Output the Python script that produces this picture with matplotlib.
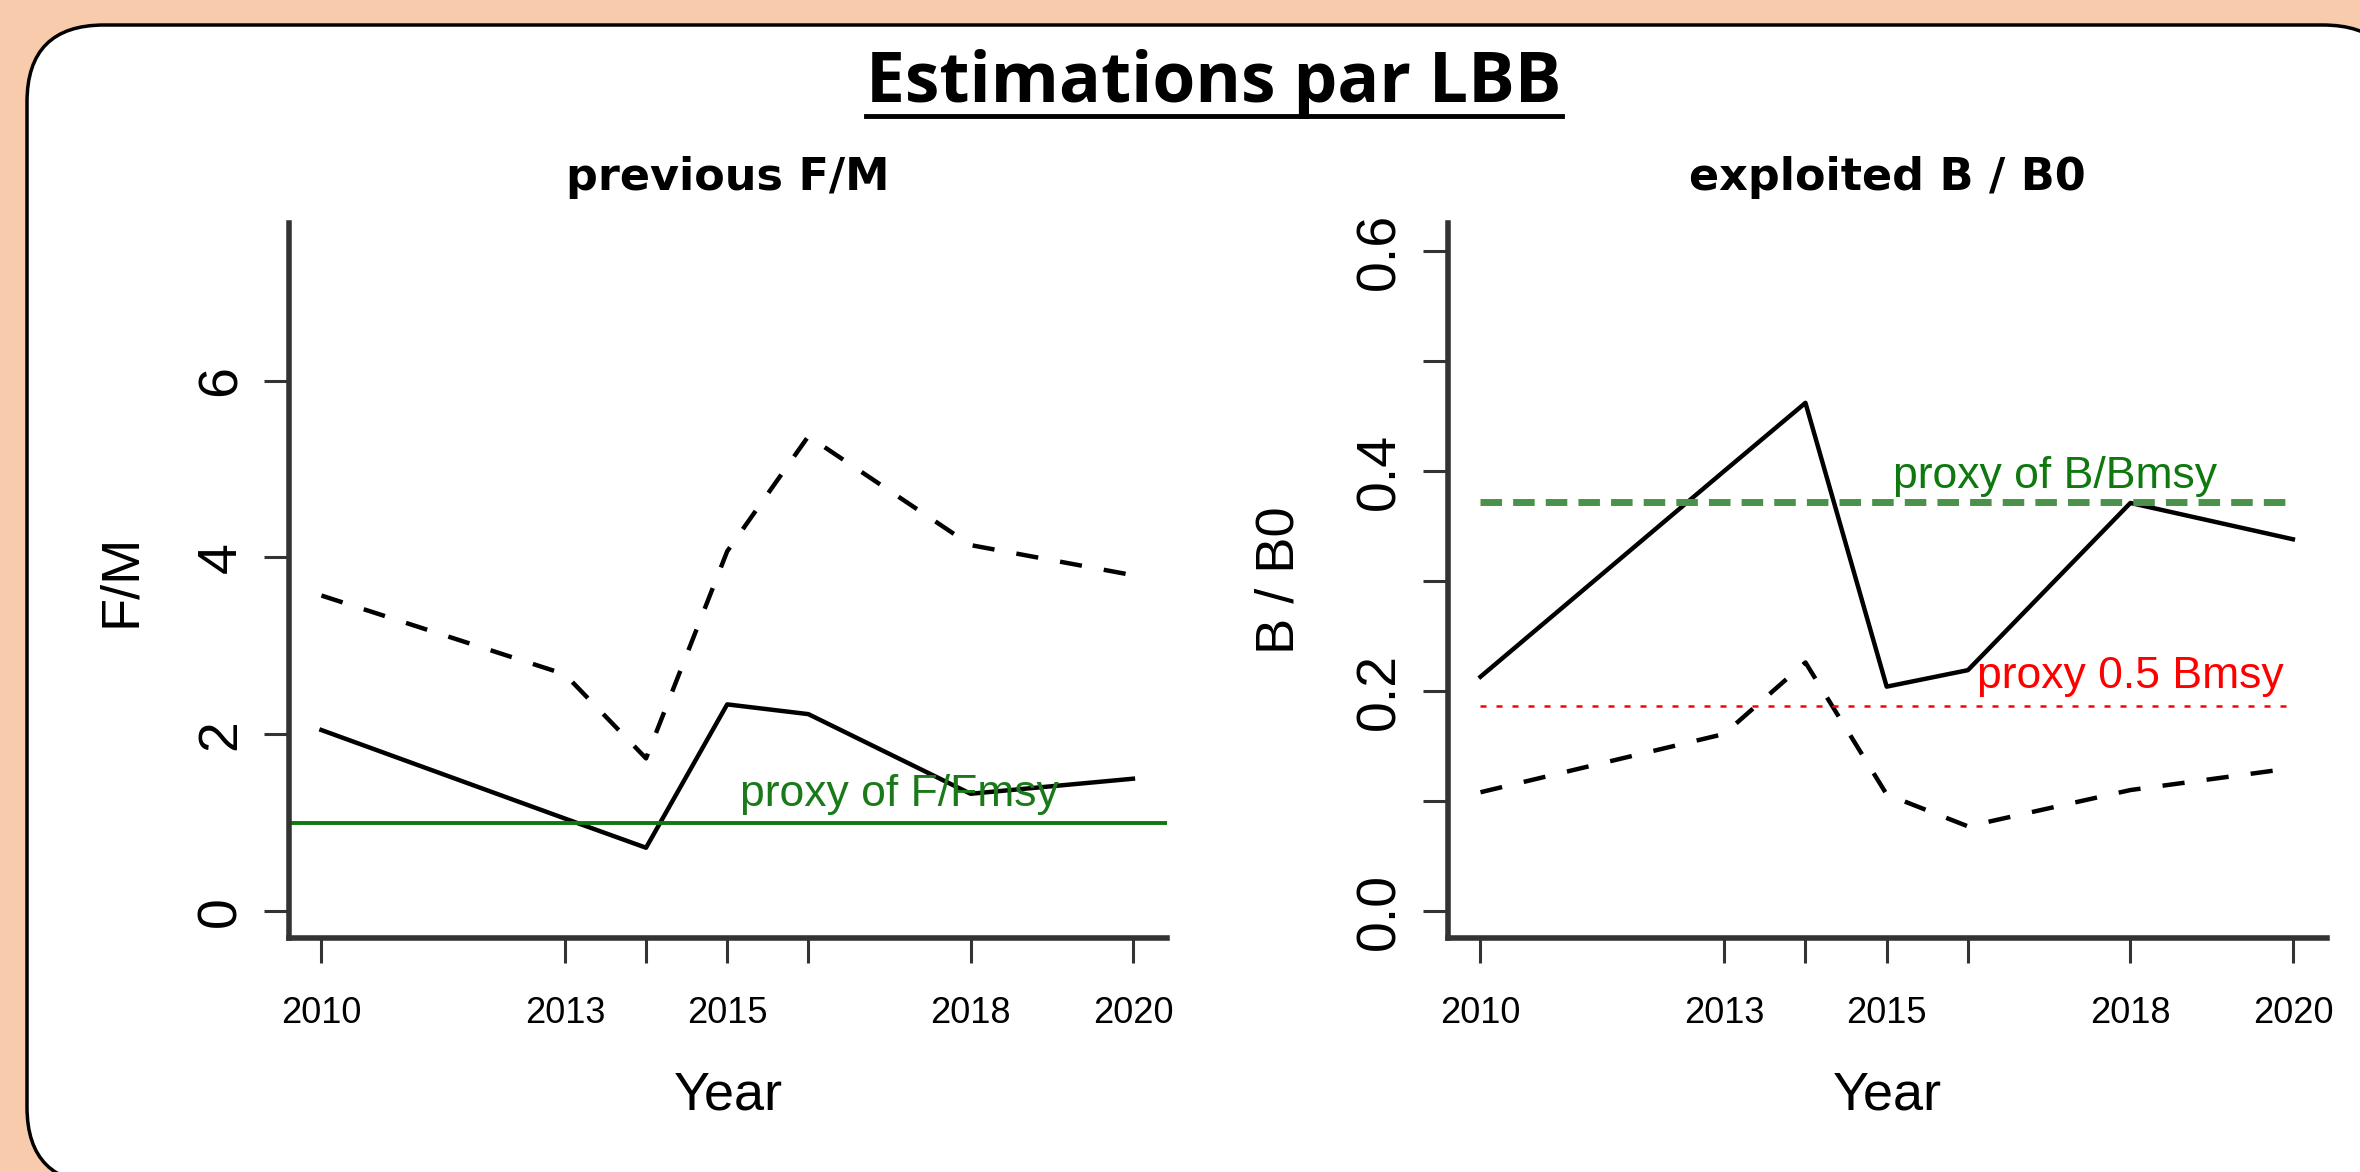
import numpy as np
import matplotlib.pyplot as plt
from matplotlib.patches import FancyBboxPatch
from matplotlib.lines import Line2D

plt.rcParams['font.family'] = ['Liberation Sans', 'DejaVu Sans']

# data
years = [2010, 2013, 2014, 2015, 2016, 2018, 2020]
year_labels = ['2010', '2013', '', '2015', '', '2018', '2020']

fm_mean = [2.05, 1.05, 0.72, 2.34, 2.23, 1.33, 1.50]
fm_upper = [3.57, 2.68, 1.73, 4.07, 5.37, 4.14, 3.80]
fm_ref = 1.0
fm_ticks = [0, 2, 4, 6]

bb0_mean = [0.213, 0.400, 0.462, 0.204, 0.219, 0.371, 0.338]
bb0_lower = [0.108, 0.161, 0.226, 0.106, 0.077, 0.110, 0.130]
bmsy_proxy = 0.372
bb0_ticks = [0.0, 0.1, 0.2, 0.3, 0.4, 0.5, 0.6]
bb0_tick_labels = ['0.0', '', '0.2', '', '0.4', '', '0.6']

W, H = 2360, 1172
fig = plt.figure(figsize=(W / 100, H / 100), dpi=100, facecolor='#F8CBAD')

# white rounded panel (inches, so corners stay round)
box = FancyBboxPatch((0.27, -0.12), 23.73, 11.59,
                     boxstyle='round,pad=0,rounding_size=0.77',
                     transform=fig.dpi_scale_trans,
                     fc='white', ec='black', lw=2.5, zorder=-5)
fig.add_artist(box)

title = fig.text(1214 / W, 1 - 102 / H, 'Estimations par LBB', ha='center',
                 va='baseline', fontsize=50, fontweight='bold',
                 family=['Open Sans', 'DejaVu Sans'])


def style_axes(ax, yticks, ylabels, ylabel, title_txt):
    for s in ['top', 'right']:
        ax.spines[s].set_visible(False)
    for s in ['left', 'bottom']:
        ax.spines[s].set_linewidth(4)
        ax.spines[s].set_color('#333333')
        ax.spines[s].set_capstyle('projecting')
    ax.patch.set_visible(False)
    ax.set_xticks(years)
    ax.set_xticklabels(year_labels)
    ax.set_yticks(yticks)
    ax.set_yticklabels(ylabels)
    ax.tick_params(axis='both', direction='out', length=18, width=2.2,
                   color='#333333')
    ax.tick_params(axis='x', labelsize=26, pad=24)
    ax.tick_params(axis='y', labelsize=40, pad=12, labelrotation=90)
    for lab in ax.get_yticklabels():
        lab.set_va('center')
    ax.set_xlim(2009.6, 2020.42)
    ax.set_xlabel('Year', fontsize=39, va='center')
    ax.xaxis.set_label_coords(0.5, -(1095 - 938) / 715)
    ax.set_ylabel(ylabel, fontsize=39, va='center')
    ax.yaxis.set_label_coords(-168 / 878, 0.5)
    ax.set_title(title_txt, fontsize=32, fontweight='bold',
                 family=['DejaVu Sans'], y=(938 - 190) / 715, pad=0)


# left panel: F/M
ax1 = fig.add_axes([289 / W, 1 - 938 / H, 878 / W, 715 / H])
ax1.plot(years, fm_mean, color='black', lw=3.2)
ax1.plot(years, fm_upper, color='black', lw=3.2, dashes=(5, 5))
ax1.axhline(fm_ref, color='#0f780f', lw=2.8)
ax1.text(2017.12, 1.19, 'proxy of F/Fmsy', color='#1a7a1a', fontsize=32,
         ha='center', va='baseline')
ax1.set_ylim(-0.30, 7.78)
style_axes(ax1, fm_ticks, [str(v) for v in fm_ticks], 'F/M', 'previous F/M')

# right panel: B/B0
ax2 = fig.add_axes([1448 / W, 1 - 938 / H, 879 / W, 715 / H])
ax2.plot(years, bb0_mean, color='black', lw=3.2)
ax2.plot(years, bb0_lower, color='black', lw=3.2, dashes=(5, 5))
ax2.plot([years[0], years[-1]], [bmsy_proxy, bmsy_proxy], color='#4a924a',
         lw=5, dashes=(3.1, 1.6))
ax2.plot([years[0], years[-1]], [bmsy_proxy / 2, bmsy_proxy / 2],
         color='#ff0000', lw=1.8, dashes=(2.4, 4))
ax2.text(2017.07, 0.385, 'proxy of B/Bmsy', color='#0f780f', fontsize=32,
         ha='center', va='baseline')
ax2.text(2018.0, 0.203, 'proxy 0.5 Bmsy', color='#ff0000', fontsize=32,
         ha='center', va='baseline')
ax2.set_ylim(-0.0245, 0.6255)
style_axes(ax2, bb0_ticks, bb0_tick_labels, 'B / B0', 'exploited B / B0')

# underline the main title
fig.canvas.draw()
bb = title.get_window_extent().transformed(fig.transFigure.inverted())
fig.add_artist(Line2D([bb.x0, bb.x1], [1 - 116 / H, 1 - 116 / H],
                      transform=fig.transFigure, color='black', lw=3.5))

fig.savefig('out.png', dpi=100, facecolor=fig.get_facecolor())
